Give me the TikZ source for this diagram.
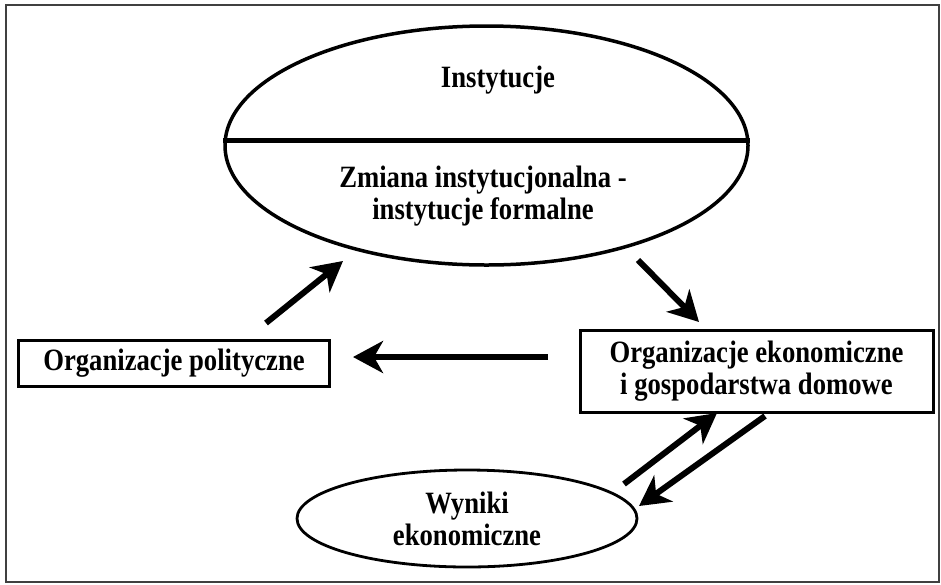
\documentclass[tikz,border=0pt]{standalone}
\usepackage{fontspec}
\setmainfont[FakeStretch=0.86]{Liberation Serif}
\usetikzlibrary{arrows.meta,shapes.geometric}
\begin{document}
\begin{tikzpicture}[x=1pt,y=-1pt,
  lbl/.style={font=\fontsize{31}{32}\selectfont\bfseries, align=center, inner sep=0pt},
  boxnode/.style={lbl, draw, line width=3pt, rectangle},
  ovalnode/.style={draw, ellipse, inner sep=0pt},
  arr/.style={line width=6pt, -{Stealth[length=30pt,width=32pt,inset=9pt]}},
]
\useasboundingbox (0,0) rectangle (941,584);
\node[draw=black!75, line width=1.4pt, rectangle, minimum width=933pt, minimum height=577pt, inner sep=0pt] (frame) at (472.5,293.5) {};

% big ellipse
\node[ovalnode, line width=3.5pt, minimum width=523pt, minimum height=239pt] (big) at (486.5,145.5) {};
\draw[line width=5pt] (big.179.4) -- (big.1.5);
\node[lbl] (inst) at (498,80) {Instytucje};
\node[lbl] (zmiana) at (483,196.5) {Zmiana instytucjonalna -\\instytucje formalne};

% boxes
\node[boxnode, minimum width=311pt, minimum height=46pt] (pol) at (174,363) {Organizacje polityczne};
\node[boxnode, minimum width=353pt, minimum height=81.5pt] (eko) at (756.5,371.5) {Organizacje ekonomiczne\\i gospodarstwa domowe};

% small ellipse
\node[ovalnode, lbl, line width=2.8pt, minimum width=340pt, minimum height=97pt] (wyn) at (467,518.5) {Wyniki\\ekonomiczne};

% arrow end points
\coordinate (a1s) at (266,323);   \coordinate (a1e) at (343,261);
\coordinate (a2s) at (638,260);   \coordinate (a2e) at (699,322);
\coordinate (a3s) at (548,357);   \coordinate (a3e) at (353,357);
\coordinate (a4s) at (624,484);   \coordinate (a4e) at (717,413);
\coordinate (a5s) at (765,416);   \coordinate (a5e) at (639,506);

\draw[arr] (a1s) -- (a1e);
\draw[arr] (a2s) -- (a2e);
\draw[arr] (a3s) -- (a3e);
\draw[arr] (a4s) -- (a4e);
\draw[arr] (a5s) -- (a5e);
\end{tikzpicture}
\end{document}
